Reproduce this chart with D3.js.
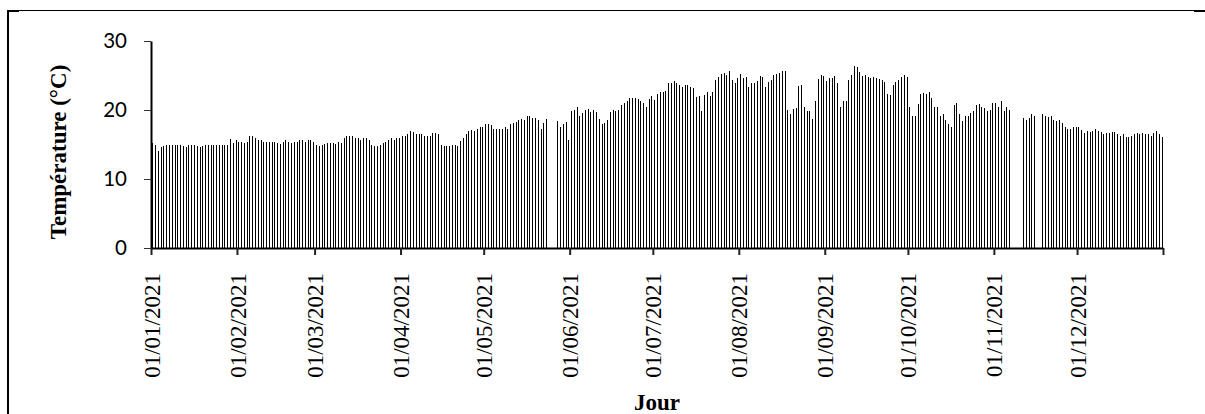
<!DOCTYPE html>
<html>
<head>
<meta charset="utf-8">
<script src="https://cdn.jsdelivr.net/npm/d3@7"></script>
<style>
  body { margin: 0; background: #fff; }
  svg { display: block; }
</style>
</head>
<body>
<svg id="chart" width="1205" height="414"></svg>
<script>
// Daily temperature (°C), 2021 - one array per month, null = no reading
var jan = [15.2, 14.9, 14.1, 14.6, 14.8, 14.9, 14.9, 15.0, 14.9, 14.9, 14.9, 14.8, 14.6, 14.9, 14.9, 14.9,
           14.8, 14.6, 14.8, 15.0, 14.9, 14.9, 14.9, 14.9, 14.9, 14.9, 14.9, 14.9, 15.8, 15.2, 15.6];
var feb = [15.4, 15.3, 15.2, 15.3, 16.2, 16.2, 15.9, 15.6, 15.6, 15.4, 15.3, 15.4, 15.4, 15.4, 15.2, 15.1,
           15.4, 15.6, 15.3, 15.2, 15.4, 15.4, 15.6, 15.7, 15.4, 15.6, 15.6, 15.4];
var mar = [15.0, 14.85, 15.0, 15.1, 15.25, 15.15, 15.25, 15.1, 15.4, 15.25, 15.9, 16.2, 16.3, 16.2, 15.9, 16.0,
           15.7, 15.9, 15.9, 15.7, 15.0, 14.85, 14.85, 15.0, 15.15, 15.4, 15.7, 15.9, 15.7, 15.9, 16.0];
var apr = [16.2, 16.3, 16.5, 16.9, 16.75, 16.5, 16.5, 16.5, 16.2, 16.2, 16.3, 16.7, 16.7, 16.5, 15.0, 14.85,
           14.85, 14.85, 15.0, 15.0, 14.85, 15.45, 16.0, 16.5, 16.9, 17.05, 16.9, 17.3, 17.5, 17.5];
var may = [17.9, 17.9, 17.8, 17.2, 17.2, 17.3, 17.2, 17.5, 17.3, 17.9, 18.05, 18.2, 18.5, 18.65, 18.5, 19.1,
           19.1, 18.8, 18.9, 18.5, 17.3, 18.05, 18.65, null, null, null, 18.35, 17.6, 17.9, 18.2, 15.6];
var jun = [19.8, 19.95, 20.4, 19.2, 19.5, 19.95, 20.1, 19.65, 19.95, 19.65, 18.65, 17.9, 18.05, 18.5, 19.65,
           19.95, 19.8, 19.95, 20.7, 20.95, 21.25, 21.7, 21.7, 21.7, 21.55, 21.25, 20.95, 20.4, 21.55, 22.0];
var jul = [21.4, 22.3, 22.6, 22.6, 22.75, 23.9, 23.9, 24.2, 23.9, 23.6, 23.3, 23.6, 23.6, 23.3, 23.15, 21.85,
           22.0, 19.8, 22.15, 22.6, 22.0, 22.6, 24.3, 24.75, 25.2, 25.35, 25.05, 25.65, 24.3, 23.9, 24.6];
var aug = [25.2, 24.6, 24.75, 23.3, 23.9, 23.9, 24.2, 24.9, 24.75, 23.3, 24.0, 24.3, 25.05, 25.2, 25.35, 25.65,
           25.65, 19.95, 19.35, 20.1, 20.25, 23.45, 23.6, 20.5, 19.8, 19.8, 18.65, 21.25, 24.45, 25.05, 24.9];
var sep = [24.2, 24.6, 24.6, 24.9, 23.9, 20.5, 21.25, 21.25, 24.3, 25.05, 26.35, 26.2, 25.5, 24.9, 25.05, 24.75,
           24.6, 24.75, 24.6, 24.45, 24.3, 24.0, 22.3, 22.15, 23.6, 24.0, 24.3, 24.75, 25.05, 24.75];
var oct = [20.4, 19.1, 19.2, 20.8, 22.3, 22.4, 22.3, 22.6, 21.7, 20.5, 20.4, 19.2, 19.35, 18.5, 17.9, 17.5,
           20.7, 20.95, 19.35, 18.35, 19.2, 19.2, 19.5, 19.8, 20.7, 20.8, 20.5, 20.25, 19.8, 19.95, 20.95];
var nov = [20.95, 20.5, 21.25, 19.8, 20.4, 19.95, null, null, null, null, 18.8, 18.5, 18.8, 19.35, 19.2,
           null, null, 19.35, 19.1, 18.95, 19.2, 18.5, 18.35, 18.5, 18.05, 17.6, 17.3, 17.2, 17.5, 17.5];
var dec = [17.5, 17.05, 16.6, 16.9, 16.75, 16.9, 17.3, 16.9, 16.75, 16.45, 16.6, 16.6, 16.75, 16.75, 16.45,
           16.3, 16.45, 16.15, 16.15, 16.3, 16.45, 16.6, 16.45, 16.6, 16.45, 16.45, 16.3, 16.6, 16.9, 16.45, 16.15];

// Axis ticks
var yTicks = [0, 10, 20, 30];
var yLabel = 'Température (°C)';
var xLabel = 'Jour';

// Set default values
var width = 1205,
    height = 414,
    plot = {left: 151, right: 1163, top: 41, bottom: 248},
    serif = "'Liberation Serif', 'Times New Roman', Times, serif",
    sans = "Lato, 'Open Sans', sans-serif";

var start = new Date(2021, 0, 1),
    end = new Date(2022, 0, 1);

var days = d3.timeDay.range(start, end);
var temps = [].concat(jan, feb, mar, apr, may, jun, jul, aug, sep, oct, nov, dec);
var data = days.map(function(d, i) { return {date: d, temp: temps[i]}; })
    .filter(function(d) { return d.temp != null; });

// Month boundaries, last one closes the axis
var monthTicks = d3.timeMonth.range(start, new Date(2022, 0, 2));

var svg = d3.select('#chart');

// Scales
var x = d3.scaleTime()
    .domain([start, end])
    .range([plot.left, plot.right]);

var band = d3.scaleBand()
    .domain(days)
    .range([plot.left, plot.right])
    .padding(0);

var y = d3.scaleLinear()
    .domain([0, 30])
    .range([plot.bottom, plot.top]);

// Outer frame (only left and top edges are visible)
var frame = svg.append('g').attr('class', 'frame');
frame.append('line')
    .attr('x1', 8).attr('x2', width)
    .attr('y1', 10.5).attr('y2', 10.5)
    .attr('stroke', '#000').attr('stroke-width', 1);
frame.append('rect').attr('x', 7).attr('y', 10).attr('width', 2).attr('height', height - 10).attr('fill', '#000');
frame.append('rect').attr('x', 7).attr('y', 10).attr('width', 12).attr('height', 2).attr('fill', '#000');
frame.append('rect').attr('x', 1194).attr('y', 10).attr('width', 11).attr('height', 2).attr('fill', '#000');

// Bars - one thin black stroke per day
svg.append('g')
    .attr('class', 'bars')
    .selectAll('rect')
    .data(data)
    .enter()
    .append('rect')
    .attr('x', function(d) { return Math.round(band(d.date) + band.bandwidth() / 2) - 0.5; })
    .attr('y', function(d) { return y(d.temp); })
    .attr('width', 1.1)
    .attr('height', function(d) { return y(0) - y(d.temp); })
    .attr('fill', '#000')
    .attr('shape-rendering', 'crispEdges');

// Y axis
var yAxis = svg.append('g')
    .attr('transform', 'translate(' + plot.left + ',0)')
    .call(d3.axisLeft(y).tickValues(yTicks).tickSize(7).tickSizeOuter(0).tickPadding(17))
    .attr('font-family', sans)
    .attr('font-size', 20.5);

yAxis.select('.domain').attr('stroke', '#000').attr('stroke-width', 2);
yAxis.selectAll('.tick line').attr('stroke', '#333').attr('stroke-width', 1);
yAxis.selectAll('.tick text').attr('fill', '#000');

// X axis
var fmt = d3.timeFormat('%d/%m/%Y');
var xAxis = svg.append('g')
    .attr('transform', 'translate(0,' + plot.bottom + ')')
    .call(d3.axisBottom(x)
        .tickValues(monthTicks)
        .tickSize(7)
        .tickSizeOuter(0)
        .tickFormat(function(d) { return d.getFullYear() === 2021 ? fmt(d) : ''; }))
    .attr('font-family', serif)
    .attr('font-size', 23);

xAxis.select('.domain').attr('stroke', '#000').attr('stroke-width', 2);
xAxis.selectAll('.tick line').attr('stroke', '#222').attr('stroke-width', 2);
xAxis.selectAll('.tick text')
    .attr('transform', 'rotate(-90)')
    .attr('x', -25)
    .attr('y', 0)
    .attr('dy', '0.35em')
    .attr('fill', '#000')
    .style('text-anchor', 'end');

// Axis titles
svg.append('text')
    .attr('transform', 'translate(66,152) rotate(-90)')
    .attr('text-anchor', 'middle')
    .attr('font-family', serif)
    .attr('font-weight', 'bold')
    .attr('font-size', 23)
    .text(yLabel);

svg.append('text')
    .attr('x', (plot.left + plot.right) / 2)
    .attr('y', 410)
    .attr('text-anchor', 'middle')
    .attr('font-family', serif)
    .attr('font-weight', 'bold')
    .attr('font-size', 23)
    .text(xLabel);
</script>
</body>
</html>
